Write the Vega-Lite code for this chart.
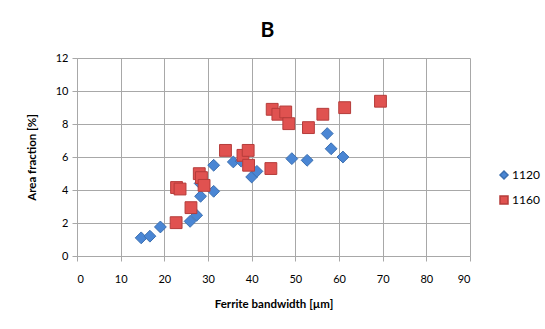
{
  "$schema": "https://vega.github.io/schema/vega-lite/v6.json",
  "width": 393,
  "height": 198,
  "autosize": {"type": "none"},
  "padding": {"left": 77, "top": 58, "right": 75, "bottom": 73},
  "background": "white",
  "config": {
    "font": "Lato",
    "view": {"stroke": null},
    "axis": {
      "gridColor": "#a8a8a8",
      "gridWidth": 1,
      "gridOpacity": 1,
      "domainColor": "#a8a8a8",
      "tickColor": "#a8a8a8",
      "tickSize": 5,
      "labelFont": "Lato",
      "labelFontSize": 11,
      "labelColor": "#000000",
      "titleFont": "Lato",
      "titleFontSize": 11.5,
      "titleFontWeight": "bold",
      "titleColor": "#000000"
    }
  },
  "title": {
    "text": "B",
    "font": "Lato",
    "fontSize": 21,
    "fontWeight": "bold",
    "color": "#000000",
    "anchor": "middle",
    "offset": 11,
    "dx": -6
  },
  "data": {
    "values": [
      {"series": "1120", "bw": 14.7, "af": 1.1},
      {"series": "1120", "bw": 16.7, "af": 1.2},
      {"series": "1120", "bw": 19.1, "af": 1.76},
      {"series": "1120", "bw": 25.9, "af": 2.1},
      {"series": "1120", "bw": 27.4, "af": 2.47},
      {"series": "1120", "bw": 28.3, "af": 3.62},
      {"series": "1120", "bw": 28.2, "af": 4.4},
      {"series": "1120", "bw": 31.3, "af": 3.92},
      {"series": "1120", "bw": 31.3, "af": 5.5},
      {"series": "1120", "bw": 35.8, "af": 5.7},
      {"series": "1120", "bw": 37.6, "af": 5.75},
      {"series": "1120", "bw": 40.0, "af": 4.79},
      {"series": "1120", "bw": 41.2, "af": 5.13},
      {"series": "1120", "bw": 49.2, "af": 5.9},
      {"series": "1120", "bw": 52.7, "af": 5.8},
      {"series": "1120", "bw": 57.3, "af": 7.42},
      {"series": "1120", "bw": 58.2, "af": 6.5},
      {"series": "1120", "bw": 60.9, "af": 6.0},
      {"series": "1160", "bw": 22.7, "af": 2.02},
      {"series": "1160", "bw": 22.8, "af": 4.15},
      {"series": "1160", "bw": 23.6, "af": 4.06},
      {"series": "1160", "bw": 26.1, "af": 2.93},
      {"series": "1160", "bw": 28.0, "af": 4.99},
      {"series": "1160", "bw": 28.5, "af": 4.75},
      {"series": "1160", "bw": 29.1, "af": 4.28},
      {"series": "1160", "bw": 34.0, "af": 6.4},
      {"series": "1160", "bw": 38.0, "af": 6.1},
      {"series": "1160", "bw": 39.2, "af": 6.4},
      {"series": "1160", "bw": 39.3, "af": 5.5},
      {"series": "1160", "bw": 44.4, "af": 5.3},
      {"series": "1160", "bw": 44.7, "af": 8.89},
      {"series": "1160", "bw": 46.0, "af": 8.59},
      {"series": "1160", "bw": 47.8, "af": 8.73},
      {"series": "1160", "bw": 48.5, "af": 8.02},
      {"series": "1160", "bw": 53.0, "af": 7.78},
      {"series": "1160", "bw": 56.3, "af": 8.59},
      {"series": "1160", "bw": 61.3, "af": 8.99},
      {"series": "1160", "bw": 69.5, "af": 9.38}
    ]
  },
  "mark": {"type": "point", "filled": true, "opacity": 1, "strokeWidth": 1, "size": 140},
  "encoding": {
    "x": {
      "field": "bw",
      "type": "quantitative",
      "title": "Ferrite bandwidth [µm]",
      "scale": {"domain": [0, 90], "nice": false, "zero": true},
      "axis": {"values": [0, 10, 20, 30, 40, 50, 60, 70, 80, 90], "labelPadding": 12, "titlePadding": 14}
    },
    "y": {
      "field": "af",
      "type": "quantitative",
      "title": "Area fraction [%]",
      "scale": {"domain": [0, 12], "nice": false},
      "axis": {"values": [0, 2, 4, 6, 8, 10, 12], "labelPadding": 4, "titlePadding": 18}
    },
    "color": {
      "field": "series",
      "type": "nominal",
      "scale": {"domain": ["1120", "1160"], "range": ["#4a86d4", "#e05250"]},
      "legend": {
        "title": null,
        "orient": "none",
        "legendX": 421,
        "legendY": 111,
        "labelFontSize": 12,
        "labelFont": "Lato",
        "labelColor": "#000000",
        "symbolSize": 64,
        "rowPadding": 11,
        "labelOffset": 2,
        "encode": {"symbols": {"update": {"size": {"value": 64}}}}
      }
    },
    "shape": {
      "field": "series",
      "type": "nominal",
      "scale": {"domain": ["1120", "1160"], "range": ["diamond", "square"]}
    },
    "stroke": {
      "field": "series",
      "type": "nominal",
      "scale": {"domain": ["1120", "1160"], "range": ["#3b6fb0", "#b53c3a"]},
      "legend": null
    }
  }
}
